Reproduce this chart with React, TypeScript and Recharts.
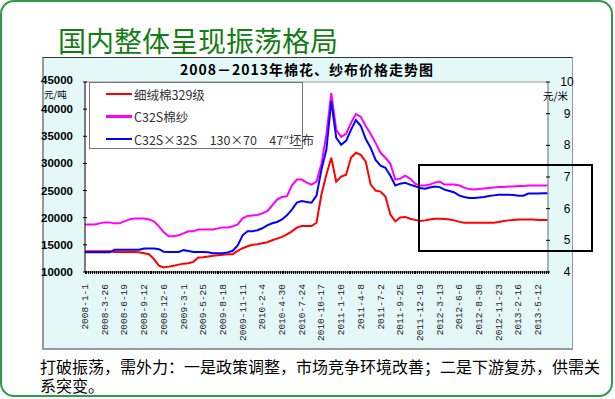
import React from 'react';
import { LineChart, Line, XAxis, YAxis, CartesianGrid, ReferenceLine } from 'recharts';

// x-axis labels, one every 4 sample points
const dateLabels = [
  '2008-1-1', '2008-3-26', '2008-6-19', '2008-9-12', '2008-12-6', '2009-3-1',
  '2009-5-25', '2009-8-18', '2009-11-11', '2010-2-4', '2010-4-30', '2010-7-24',
  '2010-10-17', '2011-1-10', '2011-4-8', '2011-7-2', '2011-9-25', '2011-12-19',
  '2012-3-13', '2012-6-6', '2012-8-30', '2012-11-23', '2013-2-16', '2013-5-12',
];

// 细绒棉329级, 元/吨 (left axis)
const cottonPrice = [
  13830, 13830, 13830, 13830, 13830, 13830, 13700, 13700, 13700, 13700,
  13700, 13640, 13460, 13280, 12370, 11170, 10840, 10990, 11170, 11360,
  11540, 11630, 11870, 12670, 12730, 12860, 13000, 13100, 13190, 13280,
  13280, 13880, 14380, 14740, 15020, 15110, 15290, 15480, 15840, 16150,
  16480, 16940, 17490, 18170, 18460, 18460, 18460, 19080, 24270, 27930,
  31040, 26650, 27570, 27930, 31040, 31960, 31590, 30310, 26100, 25000,
  24820, 23900, 20600, 19320, 20050, 20150, 19820, 19600, 19410, 19510,
  19690, 19820, 19820, 19780, 19690, 19510, 19230, 19080, 19050, 19050,
  19050, 19050, 19050, 19080, 19230, 19410, 19510, 19600, 19650, 19690,
  19690, 19690, 19600, 19560, 19560,
];

// C32S棉纱, 元/吨 (left axis)
const yarnPrice = [
  18770, 18770, 18770, 18960, 19140, 19140, 18960, 18960, 19320, 19690,
  19870, 19870, 19870, 19690, 19320, 18410, 17310, 16580, 16580, 16760,
  17120, 17490, 17490, 17850, 17850, 17850, 17850, 18040, 18220, 18220,
  18410, 18770, 19870, 20330, 20420, 20510, 20790, 21210, 22250, 23350,
  23810, 23960, 25920, 27020, 27020, 26470, 26100, 26650, 29940, 35250,
  42950, 36170, 34890, 35440, 37450, 39100, 38550, 36900, 35440, 33790,
  31960, 31040, 29940, 27020, 27200, 27750, 27200, 26280, 25920, 25920,
  26100, 26470, 26650, 26100, 26100, 26100, 25920, 25550, 25270, 25180,
  25270, 25370, 25460, 25550, 25640, 25640, 25730, 25730, 25820, 25820,
  25920, 25920, 25920, 25920, 25920,
];

// C32S×32S 130×70 47"坯布, 元/米 (right axis)
const clothPrice = [
  4.62, 4.62, 4.62, 4.62, 4.62, 4.62, 4.70, 4.70, 4.70, 4.70,
  4.70, 4.70, 4.74, 4.74, 4.74, 4.72, 4.64, 4.63, 4.63, 4.63,
  4.69, 4.66, 4.63, 4.63, 4.63, 4.62, 4.59, 4.59, 4.59, 4.62,
  4.67, 4.84, 5.16, 5.29, 5.29, 5.32, 5.38, 5.47, 5.54, 5.58,
  5.66, 5.79, 5.97, 6.19, 6.24, 6.21, 6.19, 6.41, 7.23, 7.86,
  9.40, 8.24, 8.02, 8.14, 8.49, 8.80, 8.61, 8.20, 7.92, 7.54,
  7.36, 7.29, 7.04, 6.73, 6.79, 6.82, 6.76, 6.71, 6.65, 6.63,
  6.67, 6.70, 6.68, 6.60, 6.56, 6.51, 6.41, 6.37, 6.34, 6.34,
  6.35, 6.37, 6.40, 6.42, 6.44, 6.44, 6.44, 6.43, 6.41, 6.41,
  6.48, 6.48, 6.48, 6.49, 6.49,
];

const leftTicks = [10000, 15000, 20000, 25000, 30000, 35000, 40000, 45000];
const rightTicks = [4, 5, 6, 7, 8, 9, 10];

const legendItems = [
  { name: '细绒棉329级', color: '#ff0000' },
  { name: 'C32S棉纱', color: '#ff00ff' },
  { name: 'C32S×32S　130×70　47″坯布', color: '#0000ff' },
];

const data = cottonPrice.map((v, i) => ({
  i,
  cotton: v,
  yarn: yarnPrice[i],
  cloth: clothPrice[i],
}));

// dense minor ticks along the bottom axis, a label on every 10th
const xTicks = Array.from({ length: 236 }, (_, k) => k * 0.4);

const CJK = '"Noto Sans CJK SC", sans-serif';

const XTick = (props: any) => {
  const { x, y, payload } = props;
  const k = Math.round(payload.value / 0.4);
  const label = k % 10 === 0 ? dateLabels[k / 10] : null;
  return (
    <g>
      <line x1={x} x2={x} y1={y - 3} y2={y} stroke="#000" strokeWidth={1} shapeRendering="crispEdges" />
      {label && (
        <text
          x={x + 3}
          y={y + 10}
          transform={`rotate(-90 ${x + 3} ${y + 10})`}
          textAnchor="end"
          fontSize={9.5}
          fontFamily='"Liberation Mono", monospace'
          fill="#222"
        >
          {label}
        </text>
      )}
    </g>
  );
};

const LeftTick = (props: any) => {
  const { x, y, payload } = props;
  return (
    <g>
      <line x1={x} x2={x + 4} y1={y} y2={y} stroke="#000" />
      <text x={x - 10} y={y} dy={payload.value === 45000 ? 2 : 4} textAnchor="end" fontSize={11.5} fontWeight="bold"
        fontFamily='"Liberation Sans", Arial, sans-serif' fill="#000">
        {payload.value}
      </text>
    </g>
  );
};

const RightTick = (props: any) => {
  const { x, y, payload } = props;
  return (
    <g>
      <line x1={x - 4} x2={x} y1={y} y2={y} stroke="#000" />
      <text x={x + 17} y={y} dy={4} textAnchor="middle" fontSize={12}
        fontFamily='"Liberation Sans", Arial, sans-serif' fill="#000">
        {payload.value}
      </text>
    </g>
  );
};

export default function App() {
  return (
    <div style={{ position: 'absolute', left: 0, top: 0, width: 615, height: 399, background: '#fff', overflow: 'hidden' }}>
      <div style={{
        position: 'absolute', left: 0, top: 0, width: 609, height: 393,
        border: '2px solid #2f9b47', borderRadius: 14,
      }} />
      <div style={{
        position: 'absolute', left: 58, top: 25, fontSize: 28, lineHeight: '30px',
        color: '#137d13', fontFamily: CJK, whiteSpace: 'nowrap',
      }}>
        国内整体呈现振荡格局
      </div>

      <div style={{
        position: 'absolute', left: 42, top: 57, width: 528, height: 290,
        background: '#e4f8f8', borderTop: '1px solid #333', borderLeft: '2px solid #999',
        borderRight: '1px solid #999', borderBottom: '2px solid #999',
      }} />
      <div style={{
        position: 'absolute', left: 42, top: 61, width: 530, textAlign: 'center',
        fontSize: 14, lineHeight: '16px', fontWeight: 'bold', letterSpacing: 1,
        fontFamily: CJK, color: '#000',
      }}>
        2008－2013年棉花、纱布价格走势图
      </div>

      <div style={{ position: 'absolute', left: 0, top: 0 }}>
        <LineChart width={615} height={350} data={data} margin={{ top: 82, right: 43, bottom: 8, left: 45 }}>
          <CartesianGrid horizontal={false} vertical={false} fill="#fff" />
          <XAxis
            dataKey="i"
            type="number"
            domain={[0, 94]}
            ticks={xTicks}
            interval={0}
            height={70}
            tickSize={0}
            tickLine={false}
            axisLine={{ stroke: '#000' }}
            tick={XTick}
          />
          <YAxis
            yAxisId="left"
            domain={[10000, 45000]}
            ticks={leftTicks}
            interval={0}
            width={40}
            tickSize={0}
            tickLine={false}
            axisLine={{ stroke: '#000' }}
            tick={LeftTick}
          />
          <YAxis
            yAxisId="right"
            orientation="right"
            domain={[4, 10]}
            ticks={rightTicks}
            interval={0}
            width={24}
            tickSize={0}
            tickLine={false}
            axisLine={{ stroke: '#999', strokeWidth: 1.5 }}
            tick={RightTick}
          />
          <ReferenceLine yAxisId="left" y={45000} stroke="#999" />
          <Line yAxisId="left" dataKey="cotton" stroke="#ff0000" strokeWidth={2} dot={false} isAnimationActive={false} />
          <Line yAxisId="left" dataKey="yarn" stroke="#ff00ff" strokeWidth={2} dot={false} isAnimationActive={false} />
          <Line yAxisId="right" dataKey="cloth" stroke="#0000ff" strokeWidth={2} dot={false} isAnimationActive={false} />
        </LineChart>
      </div>

      <div style={{ position: 'absolute', left: 44, top: 89, fontSize: 9.5, lineHeight: '10px', fontFamily: CJK, color: '#000' }}>
        元/吨
      </div>
      <div style={{ position: 'absolute', left: 543, top: 90, fontSize: 10.5, lineHeight: '12px', fontFamily: CJK, color: '#000' }}>
        元/米
      </div>

      <div style={{
        position: 'absolute', left: 89, top: 82, width: 212, height: 65,
        background: '#fff', border: '1px solid #777',
      }}>
        {legendItems.map((it, k) => (
          <div key={it.name} style={{ position: 'absolute', left: 16, top: 4 + k * 22.5, height: 14, display: 'flex', alignItems: 'center' }}>
            <div style={{ width: 26, height: 2.5, background: it.color }} />
            <span style={{ marginLeft: 2, fontSize: 12.5, fontFamily: CJK, color: '#333', whiteSpace: 'nowrap' }}>{it.name}</span>
          </div>
        ))}
      </div>

      <div style={{
        position: 'absolute', left: 418, top: 164, width: 171, height: 84,
        border: '2px solid #000',
      }} />

      <div style={{
        position: 'absolute', left: 40, top: 357, width: 570, fontSize: 16, lineHeight: '19px',
        fontFamily: CJK, color: '#000',
      }}>
        打破振荡，需外力：一是政策调整，市场竞争环境改善；二是下游复苏，供需关系突变。
      </div>
    </div>
  );
}
